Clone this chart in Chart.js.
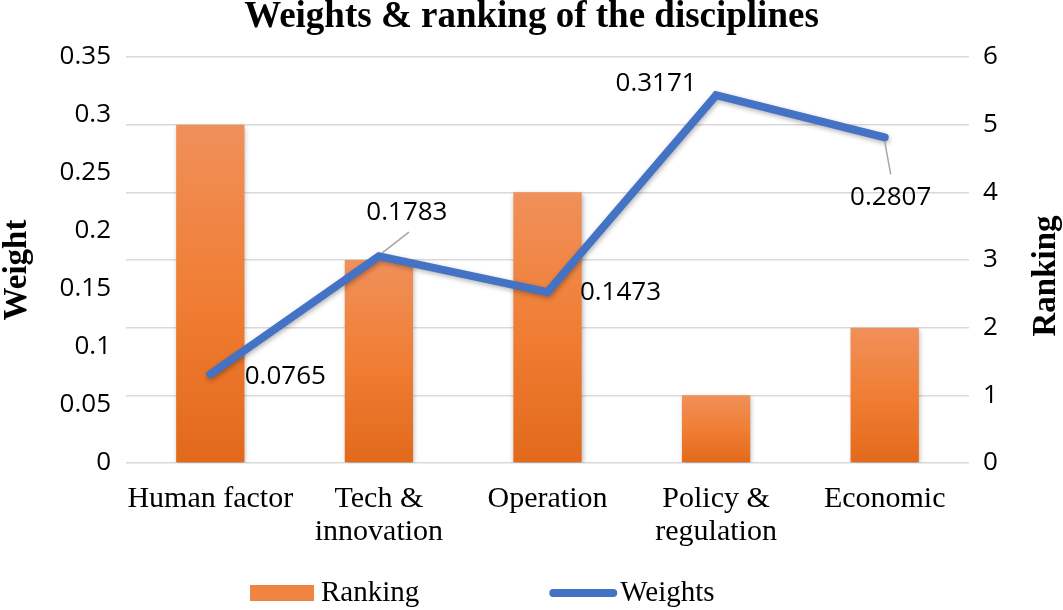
<!DOCTYPE html>
<html>
<head>
<meta charset="utf-8">
<script src="https://cdn.jsdelivr.net/npm/chart.js@4/dist/chart.umd.min.js"></script>
<style>
  html, body { margin: 0; padding: 0; background: #fff; }
  #wrap { width: 1063px; height: 610px; }
</style>
</head>
<body>
<div id="wrap"><canvas id="chart"></canvas></div>
<script>
const categories = ['Human factor', ['Tech &', 'innovation'], 'Operation', ['Policy &', 'regulation'], 'Economic'];
const ranking = [5, 3, 4, 1, 2];
const weights = [0.0765, 0.1783, 0.1473, 0.3171, 0.2807];
const weightTicks = [0, 0.05, 0.1, 0.15, 0.2, 0.25, 0.3, 0.35];
const rankTicks = [0, 1, 2, 3, 4, 5, 6];

const serif = '"Liberation Serif", "Times New Roman", serif';
const sans = '"Open Sans", "Noto Sans", sans-serif';

function barGradient(ctx) {
  const chart = ctx.chart;
  if (!chart.chartArea || ctx.raw == null) return '#EF8543';
  const y1 = chart.scales.y1;
  const top = y1.getPixelForValue(ctx.raw);
  const bot = y1.getPixelForValue(0);
  const g = chart.ctx.createLinearGradient(0, top, 0, bot);
  g.addColorStop(0, '#F0905A');
  g.addColorStop(0.5, '#F07E34');
  g.addColorStop(1, '#E2691B');
  return g;
}

// soft shadow under bars and line
const shadowPlugin = {
  id: 'shadow',
  beforeDatasetDraw(chart) {
    const c = chart.ctx;
    c.save();
    c.shadowColor = 'rgba(0,0,0,0.3)';
    c.shadowBlur = 5;
    c.shadowOffsetX = 1;
    c.shadowOffsetY = 2;
  },
  afterDatasetDraw(chart) {
    chart.ctx.restore();
  }
};

// value labels with leader lines
const valueLabels = {
  id: 'valueLabels',
  afterDatasetsDraw(chart, args, opts) {
    const c = chart.ctx;
    const ds = chart.data.datasets[opts.dataset];
    const meta = chart.getDatasetMeta(opts.dataset);
    c.save();
    c.font = '26px ' + sans;
    c.fillStyle = '#000';
    c.textAlign = 'center';
    c.textBaseline = 'middle';
    meta.data.forEach((pt, i) => {
      const [dx, dy] = opts.offsets[i];
      const lx = pt.x + dx, ly = pt.y + dy;
      const lead = opts.leaders[i];
      if (lead) {
        c.strokeStyle = '#a6a6a6';
        c.lineWidth = 1.5;
        c.beginPath();
        c.moveTo(pt.x + lead[0], pt.y + lead[1]);
        c.lineTo(pt.x + lead[2], pt.y + lead[3]);
        c.stroke();
      }
      c.fillText(ds.data[i].toFixed(4), lx, ly);
    });
    c.restore();
  }
};

// rotated axis titles (both read bottom to top)
const axisTitles = {
  id: 'axisTitles',
  afterDraw(chart, args, opts) {
    const c = chart.ctx;
    c.save();
    c.font = 'bold 33px ' + serif;
    c.fillStyle = '#000';
    c.textAlign = 'center';
    c.textBaseline = 'middle';
    opts.items.forEach(it => {
      c.save();
      c.translate(it.x, it.y);
      c.rotate(-Math.PI / 2);
      c.fillText(chart.scales[it.scale].options.title.text, 0, 0);
      c.restore();
    });
    c.restore();
  }
};

// legend row at the bottom
const legendRow = {
  id: 'legendRow',
  afterDraw(chart, args, opts) {
    const c = chart.ctx;
    c.save();
    c.font = '29px ' + serif;
    c.fillStyle = '#000';
    c.textBaseline = 'middle';
    let x = opts.x;
    const y = opts.y;
    [0, 1].forEach(k => {
      const ds = chart.data.datasets[k];
      if (ds.type === 'bar') {
        c.fillStyle = '#EF8543';
        c.fillRect(x, y - 8, 64, 16);
      } else {
        c.strokeStyle = ds.borderColor;
        c.lineWidth = 8;
        c.lineCap = 'round';
        c.beginPath();
        c.moveTo(x + 4, y);
        c.lineTo(x + 64, y);
        c.stroke();
      }
      x += 71;
      c.fillStyle = '#000';
      c.fillText(ds.label, x, y);
      x += c.measureText(ds.label).width + opts.gap;
    });
    c.restore();
  }
};

new Chart(document.getElementById('chart'), {
  data: {
    labels: categories,
    datasets: [
      {
        type: 'bar',
        label: 'Ranking',
        data: ranking,
        yAxisID: 'y1',
        backgroundColor: barGradient,
        barPercentage: 0.405,
        categoryPercentage: 1,
        order: 1
      },
      {
        type: 'line',
        label: 'Weights',
        data: weights,
        yAxisID: 'y',
        borderColor: '#4472C4',
        borderWidth: 8,
        borderCapStyle: 'round',
        borderJoinStyle: 'miter',
        pointRadius: 0,
        tension: 0,
        order: 0
      }
    ]
  },
  options: {
    responsive: true,
    maintainAspectRatio: false,
    animation: false,
    layout: { padding: { top: 0, left: 0, right: 0, bottom: 57 } },
    scales: {
      x: {
        grid: { display: false, drawTicks: false },
        border: { display: false },
        ticks: {
          color: '#000',
          font: { family: serif, size: 30, lineHeight: 1.1 },
          padding: 20,
          maxRotation: 0,
          autoSkip: false
        },
        afterFit(scale) { scale.height = 90; }
      },
      y: {
        position: 'left',
        min: 0,
        max: 0.35,
        title: { display: false, text: 'Weight' },
        grid: { display: false, drawTicks: false },
        border: { display: false },
        afterBuildTicks(scale) { scale.ticks = weightTicks.map(v => ({ value: v })); },
        ticks: {
          color: '#000',
          font: { family: sans, size: 26 },
          padding: 15,
          callback: v => String(+v.toFixed(2))
        },
        afterFit(scale) { scale.width = 126; }
      },
      y1: {
        position: 'right',
        min: 0,
        max: 6,
        title: { display: false, text: 'Ranking' },
        grid: { color: '#d9d9d9', lineWidth: 1.5, drawTicks: false },
        border: { display: false },
        afterBuildTicks(scale) { scale.ticks = rankTicks.map(v => ({ value: v })); },
        ticks: {
          color: '#000',
          font: { family: sans, size: 26 },
          padding: 14
        },
        afterFit(scale) { scale.width = 94; }
      }
    },
    plugins: {
      title: {
        display: true,
        text: 'Weights & ranking of the disciplines',
        color: '#000',
        font: { family: serif, size: 37, weight: 'bold', lineHeight: 0.95 },
        padding: { top: 0, bottom: 21.85 }
      },
      legend: { display: false },
      tooltip: { enabled: false },
      valueLabels: {
        dataset: 1,
        offsets: [[75, 2], [28, -44], [73, 0], [-60, -12], [6, 60]],
        leaders: [null, [3, -3, 30, -24], null, null, [0, 4, 6, 37]]
      },
      axisTitles: {
        items: [
          { scale: 'y', x: 17, y: 270 },
          { scale: 'y1', x: 1046, y: 276 }
        ]
      },
      legendRow: { x: 250, y: 593, gap: 130 }
    }
  },
  plugins: [shadowPlugin, valueLabels, axisTitles, legendRow]
});
</script>
</body>
</html>
